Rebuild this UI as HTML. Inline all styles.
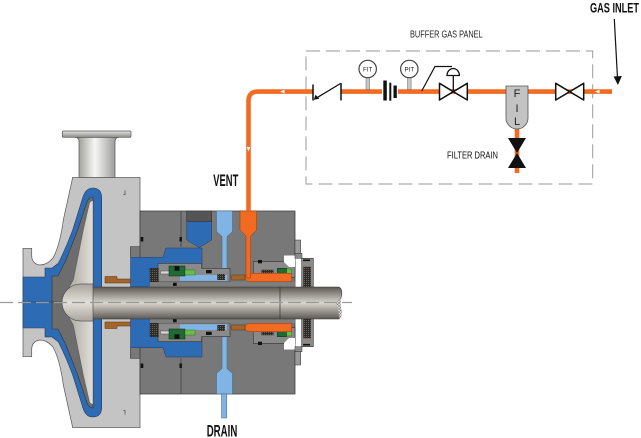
<!DOCTYPE html>
<html><head><meta charset="utf-8">
<style>
html,body{margin:0;padding:0;background:#fff;}
svg{display:block;}
text{font-family:"Liberation Sans Narrow","Liberation Sans",sans-serif;}
</style></head><body>
<svg width="641" height="438" viewBox="0 0 641 438" xmlns="http://www.w3.org/2000/svg">
<defs>
 <linearGradient id="shaft" gradientUnits="userSpaceOnUse" x1="0" y1="287" x2="0" y2="319">
  <stop offset="0" stop-color="#5e5853"/>
  <stop offset="0.5" stop-color="#d9d5cf"/>
  <stop offset="1" stop-color="#5e5853"/>
 </linearGradient>
 <linearGradient id="hub" gradientUnits="userSpaceOnUse" x1="0" y1="284" x2="0" y2="321">
  <stop offset="0" stop-color="#a9a49d"/>
  <stop offset="0.5" stop-color="#e3dfd9"/>
  <stop offset="1" stop-color="#a9a49d"/>
 </linearGradient>
 <linearGradient id="pipeV" x1="0" y1="0" x2="1" y2="0">
  <stop offset="0" stop-color="#8c8c88"/>
  <stop offset="0.45" stop-color="#f6f6f4"/>
  <stop offset="1" stop-color="#8c8c88"/>
 </linearGradient>
 <linearGradient id="flange" x1="0" y1="0" x2="0" y2="1">
  <stop offset="0" stop-color="#e6e6e4"/>
  <stop offset="1" stop-color="#8a8a86"/>
 </linearGradient>
 <linearGradient id="vane" x1="0" y1="0" x2="1" y2="0">
  <stop offset="0" stop-color="#a8a49e"/>
  <stop offset="1" stop-color="#e2dfd9"/>
 </linearGradient>
 <pattern id="hatch" width="2" height="2" patternUnits="userSpaceOnUse">
  <rect width="2" height="2" fill="#2e2a26"/>
  <rect width="1" height="1" fill="#6a625a"/>
 </pattern>
 <pattern id="xh" width="3" height="3" patternUnits="userSpaceOnUse">
  <rect width="3" height="3" fill="#e8e8e8"/>
  <path d="M0,0 L3,3 M3,0 L0,3" stroke="#777" stroke-width="0.6"/>
 </pattern>

 <g id="half">
  <!-- casing -->
  <path d="M72.7,177.3 L63.3,220 Q60,245 53,258 Q47,265 40,265 Q32,264 31.7,256 L31.7,248.3 L23,248.3 L23,303 L140,303 L140,177.3 Z" fill="#c4c4c4" stroke="#555" stroke-width="0.7"/>
  <path d="M123.5,194.5 H125 V190.5" fill="none" stroke="#444" stroke-width="0.7"/>
  <!-- blue volute -->
  <path d="M23,277 H45 V268 H52 L58.3,263.3 Q66,248 72.7,230 L82,200 Q85,188 92.5,188 Q101.7,188 101.7,198 V303 H23 Z" fill="#2d6cb4" stroke="#2a3a55" stroke-width="0.6"/>
  <!-- impeller -->
  <path d="M52,303 V276 H58 L66,260 L77.7,230 L87,202 Q89,197 93,197 V303 Z" fill="#6d6d6d" stroke="#333" stroke-width="0.6"/>
  <path d="M89.5,203 Q91,200.5 93,200.5 V284 H80 Q71,285 67,291 Q70.5,285 73.3,280 L83.3,230 Z" fill="url(#vane)" stroke="#444" stroke-width="0.4"/>
  <!-- brown bushing -->
  <path d="M105,276.5 H117 V279 H131 V283 H105 Z" fill="#a5652a" stroke="#4a3010" stroke-width="0.5"/>
  <!-- housing -->
  <rect x="140" y="211" width="155" height="92" fill="#787878"/>
  <rect x="130.5" y="246.7" width="10" height="10.6" fill="#787878"/>
  <path d="M140,303 V211 H295 V303" fill="none" stroke="#3c3c3c" stroke-width="0.8"/>
  <path d="M140,246.7 H130.5 V257.3" fill="none" stroke="#3c3c3c" stroke-width="0.7"/>
  <line x1="181" y1="211" x2="181" y2="247" stroke="#3c3c3c" stroke-width="0.7"/>
  <rect x="140.7" y="237" width="2.6" height="4.5" fill="#111"/>
  <rect x="179.5" y="237" width="2.4" height="4.5" fill="#111"/>
  <!-- blue cavity -->
  <path d="M130.5,257.3 H163 L166,248 H202 V287 H130.5 Z" fill="#2d6cb4" stroke="#2a3a55" stroke-width="0.5"/>
  <!-- light blue channel -->
  <path d="M216.5,211 H232.5 V231.5 L227,236.5 V281 H222 V236.5 L216.5,231.5 Z" fill="#80b4e4" stroke="#46627f" stroke-width="0.5"/>
  <!-- inboard gland -->
  <path d="M158,263.3 H201.7 V268.3 H230 V281.7 H158 Z" fill="#8a8a8a" stroke="#333" stroke-width="0.6"/>
  <rect x="180" y="275" width="47" height="5.8" fill="#80b4e4"/>
  <rect x="150" y="281.7" width="145" height="5.3" fill="#7e7e7e"/>
  <rect x="150" y="268.3" width="8.3" height="13.4" fill="url(#hatch)" stroke="#222" stroke-width="0.5"/>
  <rect x="160.5" y="271" width="10" height="3" fill="#d4d4d4" stroke="#333" stroke-width="0.4"/>
  <rect x="169" y="266" width="16" height="10" fill="#1f6a35" stroke="#0d2a14" stroke-width="0.5"/>
  <rect x="174.5" y="266" width="5" height="4.7" fill="#111"/>
  <rect x="185" y="270" width="10" height="5" fill="#66c046" stroke="#2a5a1a" stroke-width="0.4"/>
  <rect x="206" y="270" width="5.7" height="3.3" fill="#111"/>
  <rect x="217.3" y="274" width="7.7" height="6" fill="url(#hatch)"/>
  <rect x="173" y="282.7" width="3.7" height="3.3" fill="#111"/>
  <!-- outboard gland -->
  <rect x="253.3" y="261.7" width="41.7" height="15.6" fill="#8a8a8a" stroke="#333" stroke-width="0.6"/>
  <path d="M284,255.5 H295 V267 H289 L284,262 Z" fill="#fff"/>
  <rect x="258" y="260" width="4" height="3.3" fill="#111"/>
  <rect x="261.7" y="270" width="11.6" height="7.3" fill="url(#hatch)" stroke="#222" stroke-width="0.4"/>
  <rect x="277.3" y="268.3" width="9.4" height="8.4" fill="#1f6a35" stroke="#0d2a14" stroke-width="0.5"/>
  <rect x="286.7" y="269" width="5" height="7.7" fill="#66c046" stroke="#2a5a1a" stroke-width="0.4"/>
  <!-- orange horizontal -->
  <path d="M250.5,273.3 H291.7 V281.7 H250.5 Q245,281.7 245,277.5 Q245,273.3 250.5,273.3 Z" fill="#f26b23" stroke="#8a3a10" stroke-width="0.5"/>
  <rect x="231.7" y="275" width="13.3" height="5" fill="#a5652a" stroke="#4a3010" stroke-width="0.4"/>
  <!-- right collar -->
  <rect x="295" y="240" width="5.7" height="13.3" fill="#9a9a9a" stroke="#333" stroke-width="0.5"/>
  <rect x="295" y="253.3" width="7" height="5" fill="#8a8a8a" stroke="#333" stroke-width="0.5"/>
  <rect x="301.7" y="258.3" width="11.6" height="28.7" fill="#8a8a8a" stroke="#333" stroke-width="0.6"/>
  <rect x="303.3" y="266.7" width="7.7" height="20" fill="url(#hatch)"/>
  <rect x="303" y="259.5" width="7" height="1.6" fill="#111"/>
 </g>
</defs>

<!-- dashed panel -->
<rect x="306" y="51" width="286.7" height="133" fill="none" stroke="#9a9a9a" stroke-width="1" stroke-dasharray="14 6"/>

<!-- pump halves -->
<use href="#half"/>
<use href="#half" transform="matrix(1,0,0,-1,0,605)"/>

<!-- discharge nozzle -->
<path d="M79,177.5 V142 Q79,137.3 75,137.3 H119 Q115,137.3 115,142 V177.5 Z" fill="url(#pipeV)" stroke="#555" stroke-width="0.7"/>
<rect x="62.3" y="131" width="68.7" height="6.3" rx="1" fill="url(#flange)" stroke="#555" stroke-width="0.7"/>

<!-- upper gland cap -->
<rect x="186.7" y="211" width="25" height="10.7" fill="#555" stroke="#333" stroke-width="0.6"/>
<path d="M186.7,221.7 H211.7 V240 L199.2,247.5 L186.7,240 Z" fill="#2d6cb4" stroke="#2a3a55" stroke-width="0.5"/>

<!-- orange vent channel -->
<path d="M240,211 H256.7 V230 L250.7,236 V278 H246 V236 L240,230 Z" fill="#f26b23" stroke="#8a3a10" stroke-width="0.5"/>

<!-- drain pipe -->
<rect x="221.5" y="394" width="5.3" height="24" fill="#80b4e4" stroke="#46627f" stroke-width="0.5"/>

<!-- shaft -->
<path d="M92,287 H339 Q342.5,289 341.7,295 Q339,303 341,310 Q342,316 339,319 H92 Z" fill="url(#shaft)" stroke="#333" stroke-width="0.6"/>
<path d="M336,303 Q338.5,310 339.5,318.5 H341 Q342,316 341,310 Q339.5,304 341.5,297 Z" fill="url(#xh)"/>
<line x1="280" y1="287" x2="280" y2="319" stroke="#333" stroke-width="0.7"/>
<!-- hub -->
<path d="M93,284 H80.5 A18.5,18.5 0 0 0 80.5,321 H93 Z" fill="url(#hub)" stroke="#444" stroke-width="0.6"/>

<!-- center line -->
<line x1="0" y1="302.5" x2="352" y2="302.5" stroke="#999" stroke-width="1.3" stroke-dasharray="13 5"/>

<!-- orange pipe -->
<path d="M612,91.6 H258 Q248.5,91.6 248.5,101 V211" fill="none" stroke="#f26b23" stroke-width="4.6"/>
<line x1="517" y1="128" x2="517" y2="173" stroke="#f26b23" stroke-width="4.6"/>
<polygon points="595,91.6 599.5,89.8 599.5,93.4" fill="#fff"/>
<polygon points="280,91.6 284.5,89.8 284.5,93.4" fill="#fff"/>
<polygon points="248.5,151.5 246.7,147 250.3,147" fill="#fff"/>

<!-- check valve -->
<rect x="313" y="88.5" width="28" height="7" fill="#fff"/>
<line x1="313" y1="84.5" x2="313" y2="100.5" stroke="#111" stroke-width="1.5"/>
<line x1="341" y1="83" x2="341" y2="100.5" stroke="#111" stroke-width="1.5"/>
<line x1="340.5" y1="83.5" x2="316" y2="98.3" stroke="#111" stroke-width="1.3"/>
<polygon points="313.8,99.8 315.5,94.8 319.3,98.8" fill="#111"/>

<!-- FIT gauge -->
<rect x="366" y="77.5" width="3.6" height="12" fill="#c8c8c8" stroke="#666" stroke-width="0.5"/>
<circle cx="367.7" cy="69" r="8.7" fill="#fff" stroke="#444" stroke-width="1.2"/>
<text x="367.7" y="71.3" font-size="6.2" text-anchor="middle" fill="#222">FIT</text>

<!-- orifice -->
<rect x="382" y="88.5" width="16" height="7" fill="#fff"/>
<rect x="383.3" y="80.5" width="3.5" height="20" fill="#111"/>
<rect x="389.3" y="82.7" width="2" height="18" fill="#111"/>
<rect x="393.5" y="85.5" width="3.3" height="12.5" fill="#111"/>

<!-- PIT gauge -->
<rect x="407.5" y="77.5" width="3.6" height="12" fill="#c8c8c8" stroke="#666" stroke-width="0.5"/>
<circle cx="409.3" cy="69" r="8.7" fill="#fff" stroke="#444" stroke-width="1.2"/>
<text x="409.3" y="71.3" font-size="6.2" text-anchor="middle" fill="#222">PIT</text>

<!-- regulator -->
<polyline points="421.7,91 435,66.5 452,66.5" fill="none" stroke="#111" stroke-width="1.2"/>
<line x1="453.3" y1="75" x2="453.3" y2="91.7" stroke="#111" stroke-width="1.3"/>
<path d="M447,75.5 A6.2,7 0 0 1 459.4,75.5 Z" fill="#fff" stroke="#111" stroke-width="1.3"/>
<polygon points="439.5,83.3 439.5,100 453.3,91.7" fill="#fff" stroke="#111" stroke-width="1.5" stroke-linejoin="round"/>
<polygon points="467.3,83.3 467.3,100 453.3,91.7" fill="#fff" stroke="#111" stroke-width="1.5" stroke-linejoin="round"/>

<!-- filter -->
<path d="M506,86 H528 V118 A11,11 0 0 1 506,118 Z" fill="#c3c3c3" stroke="#555" stroke-width="0.8"/>
<text x="517" y="97" font-size="11" text-anchor="middle" fill="#222">F</text>
<text x="517" y="112" font-size="11" text-anchor="middle" fill="#222">I</text>
<text x="517" y="125" font-size="11" text-anchor="middle" fill="#222">L</text>

<!-- filter drain valve -->
<polygon points="508,138 526,138 517,153" fill="#111"/>
<polygon points="508,168 526,168 517,153" fill="#111"/>

<!-- inlet gate valve -->
<polygon points="555.7,83.3 555.7,100 569.7,91.7" fill="#fff" stroke="#111" stroke-width="1.5" stroke-linejoin="round"/>
<polygon points="583.7,83.3 583.7,100 569.7,91.7" fill="#fff" stroke="#111" stroke-width="1.5" stroke-linejoin="round"/>

<!-- gas inlet arrow -->
<line x1="614.3" y1="19" x2="617.5" y2="78" stroke="#111" stroke-width="1.2"/>
<polygon points="617.9,85 613.6,76.5 621.9,76" fill="#111"/>

<!-- labels -->
<text x="590" y="12.5" font-size="14" font-weight="bold" fill="#111" textLength="49" lengthAdjust="spacingAndGlyphs">GAS INLET</text>
<text x="410" y="37.3" font-size="10" fill="#222" textLength="72.7" lengthAdjust="spacingAndGlyphs">BUFFER GAS PANEL</text>
<text x="447" y="158.4" font-size="9.7" fill="#111" textLength="51" lengthAdjust="spacingAndGlyphs">FILTER DRAIN</text>
<text x="213.3" y="186" font-size="16.5" font-weight="bold" fill="#111" textLength="25" lengthAdjust="spacingAndGlyphs">VENT</text>
<text x="206.7" y="436.7" font-size="16.5" font-weight="bold" fill="#111" textLength="30.6" lengthAdjust="spacingAndGlyphs">DRAIN</text>
</svg>
</body></html>
